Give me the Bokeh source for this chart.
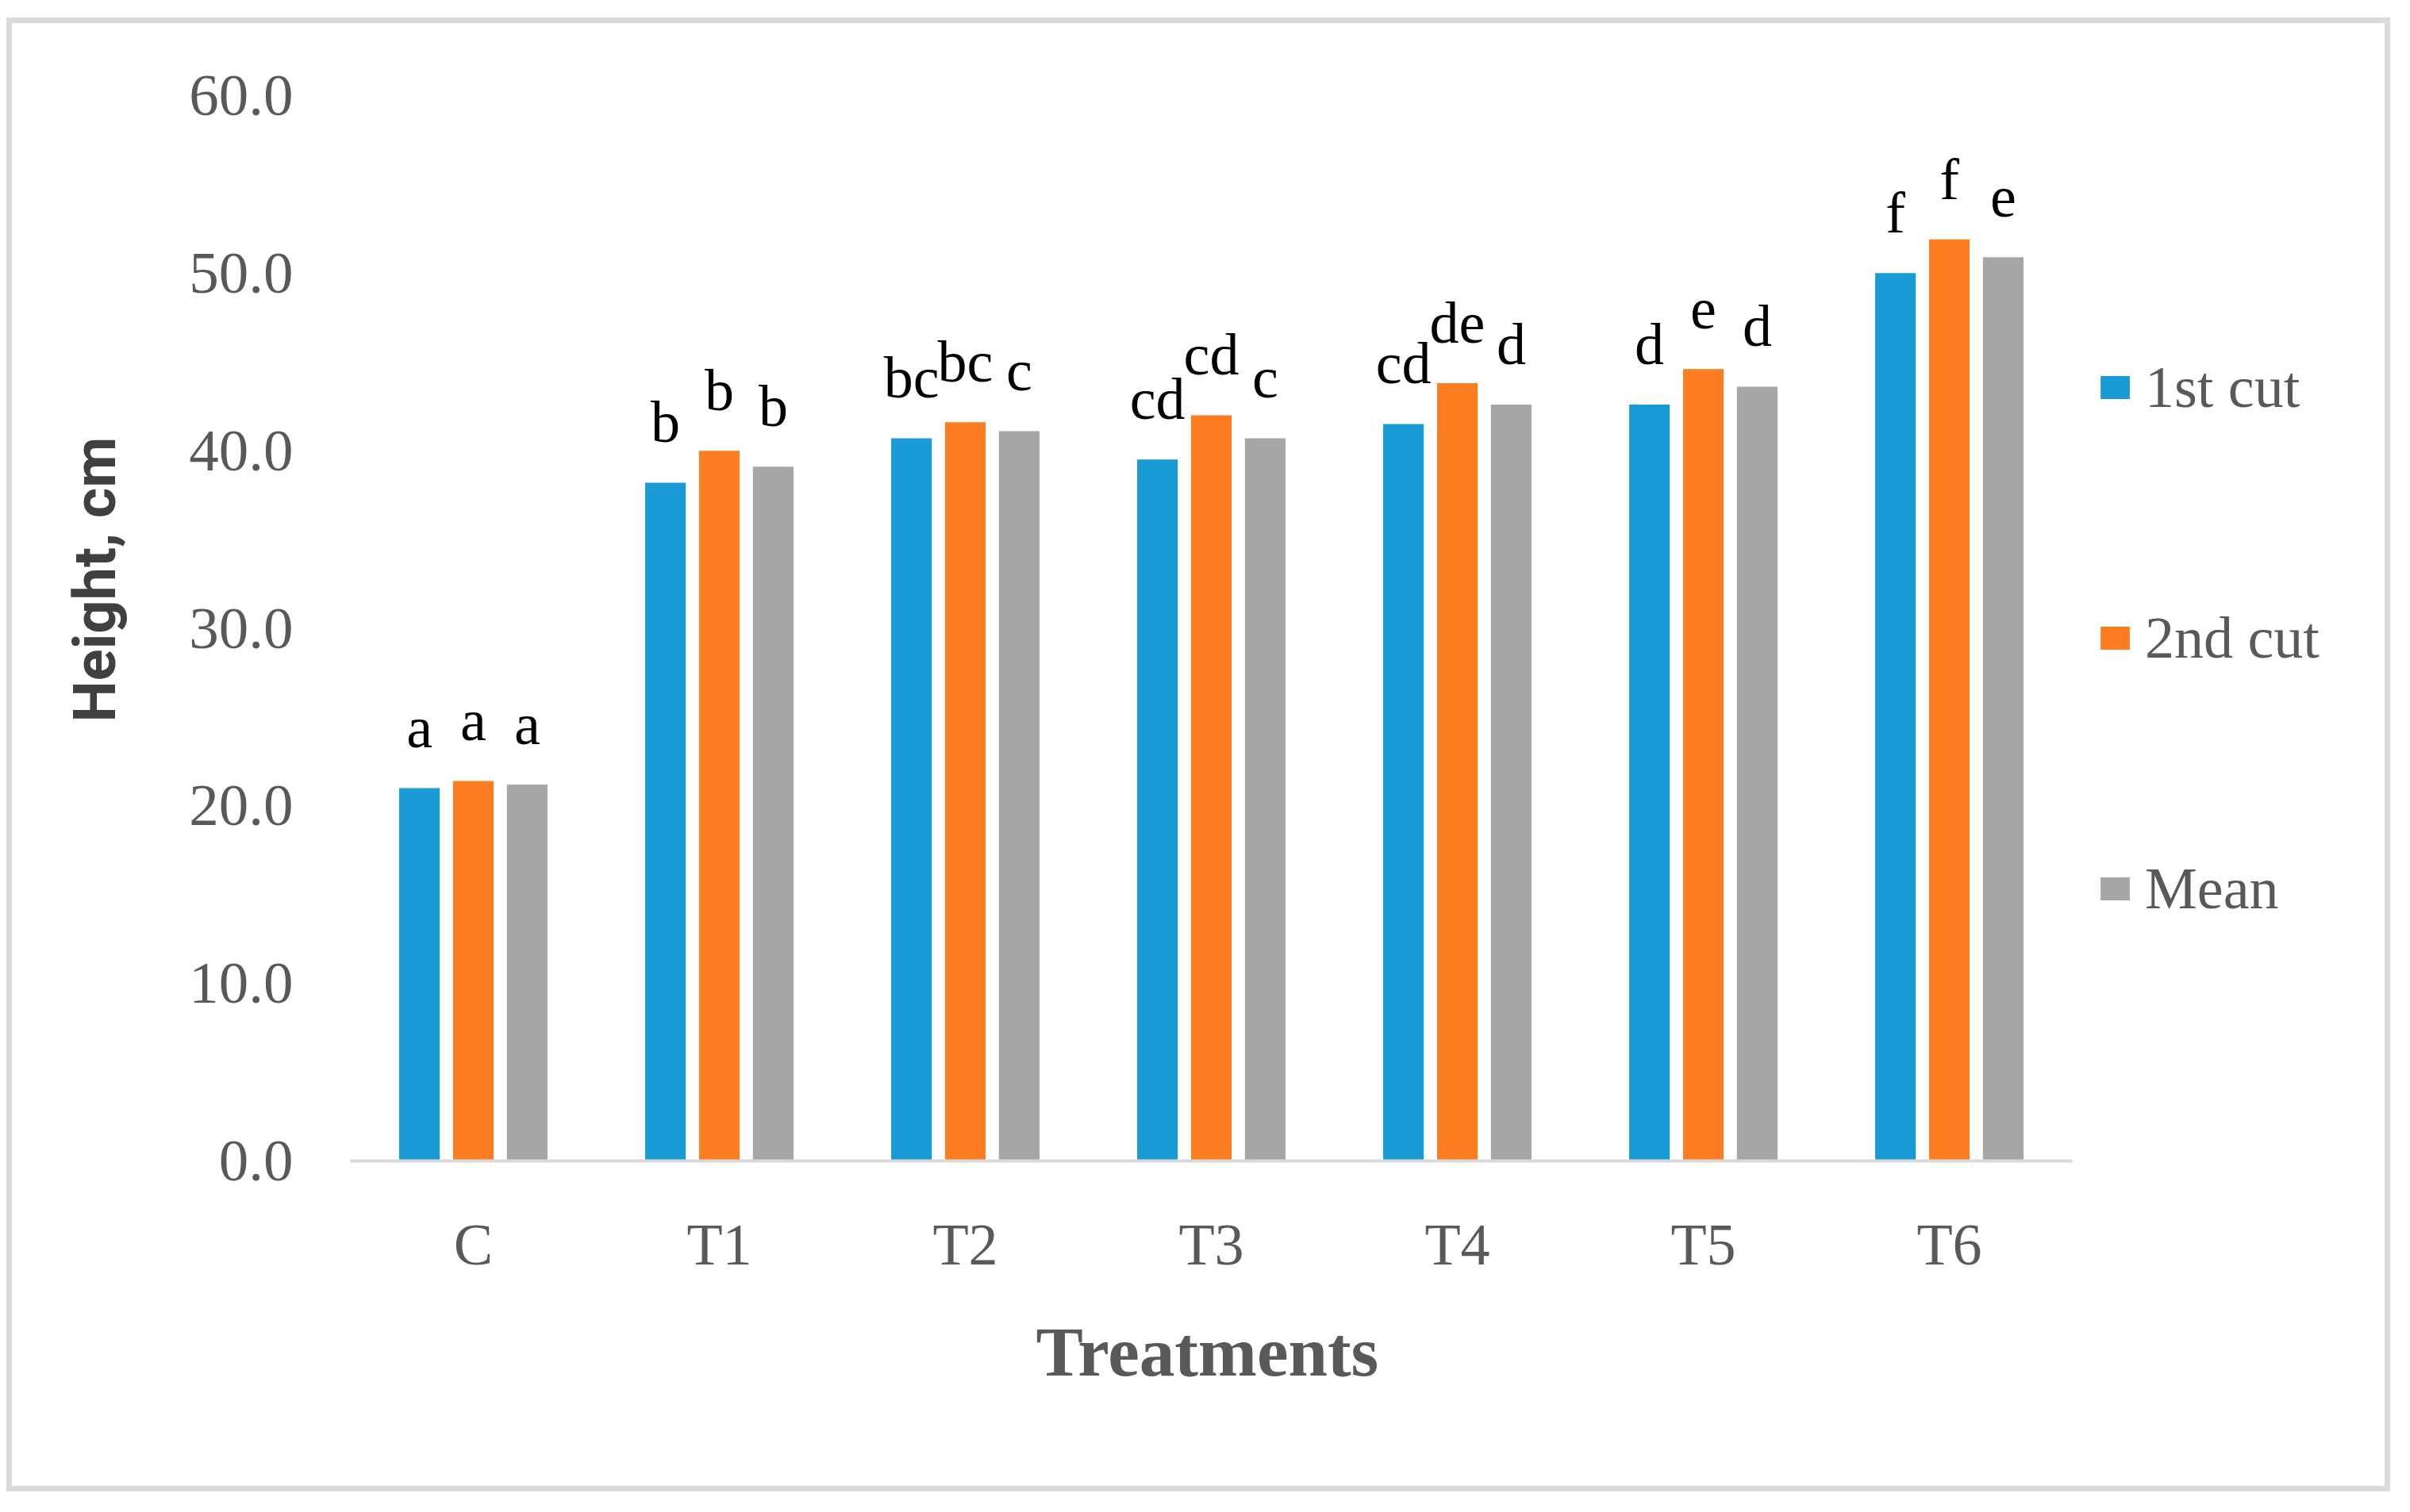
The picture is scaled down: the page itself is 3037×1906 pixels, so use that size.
from bokeh.plotting import figure
from bokeh.models import (ColumnDataSource, Range1d, FixedTicker,
                          NumeralTickFormatter, Legend, LegendItem, Title)
from bokeh.transform import dodge
from bokeh.core.properties import value
from bokeh.embed import file_html
from bokeh.resources import INLINE

# ---- data ----
treatments = ["C", "T1", "T2", "T3", "T4", "T5", "T6"]
cut1 = [21.0, 38.2, 40.7, 39.5, 41.5, 42.6, 50.0]
cut2 = [21.4, 40.0, 41.6, 42.0, 43.8, 44.6, 51.9]
mean = [21.2, 39.1, 41.1, 40.7, 42.6, 43.6, 50.9]
letters1 = ["a", "b", "bc", "cd", "cd", "d", "f"]
letters2 = ["a", "b", "bc", "cd", "de", "e", "f"]
letters_mean = ["a", "b", "c", "c", "d", "d", "e"]
series_names = ["1st cut", "2nd cut", "Mean"]
y_ticks = [0, 10, 20, 30, 40, 50, 60]

# ---- styles / geometry ----
BLUE = "#1A9BD6"
ORANGE = "#FD7D23"
GRAY = "#A6A6A6"
TXT = "#595959"
SERIF = "Liberation Serif"
LIFT = 3.4
OFFS = [-0.219, 0.0, 0.219]
BW = 0.165
W, H = 3020, 1874
LEFT, RIGHT, TOP, BOTTOM = 441, 30, 106, 425
CAT_PX = 310.0                      # pixels per category slot
X_END = (W - LEFT - RIGHT) / CAT_PX  # frame extends right to hold the legend
N = len(treatments)
centers = [i + 0.5 for i in range(N)]

source = ColumnDataSource(dict(
    xc=centers, cut1=cut1, cut2=cut2, mean=mean,
    l1=letters1, l2=letters2, lm=letters_mean,
    y1=[v + LIFT for v in cut1], y2=[v + LIFT for v in cut2], ym=[v + LIFT for v in mean],
))

p = figure(x_range=Range1d(0, X_END), y_range=Range1d(0, 60),
           width=W, height=H, output_backend="svg", toolbar_location=None,
           min_border_left=LEFT, min_border_right=RIGHT, min_border_top=TOP, min_border_bottom=BOTTOM)
p.styles = {"margin-top": "14px",
            "box-shadow": "inset 0 0 0 8px #FFFFFF, inset 0 0 0 15px #DADADA"}
p.background_fill_color = None
p.border_fill_color = None
p.outline_line_color = None
p.xgrid.visible = False
p.ygrid.visible = False

renderers = []
for col, off, colr in zip(["cut1", "cut2", "mean"], OFFS, [BLUE, ORANGE, GRAY]):
    r = p.vbar(x=dodge("xc", off), top=col, width=BW,
               source=source, fill_color=colr, line_color=None)
    renderers.append(r)

for lcol, ycol, off in zip(["l1", "l2", "lm"], ["y1", "y2", "ym"], OFFS):
    p.text(x=dodge("xc", off), y=ycol, text=lcol, source=source,
           text_font=value(SERIF), text_font_size=value("74px"), text_color="black",
           text_align="center", text_baseline="alphabetic")

# y axis
p.yaxis.ticker = FixedTicker(ticks=y_ticks)
p.yaxis.formatter = NumeralTickFormatter(format="0.0")
p.yaxis.axis_line_color = None
p.yaxis.major_tick_line_color = None
p.yaxis.minor_tick_line_color = None
p.yaxis.major_label_text_font = SERIF
p.yaxis.major_label_text_font_size = "75px"
p.yaxis.major_label_text_color = TXT
p.yaxis.major_label_standoff = 66

# x axis
p.xaxis.ticker = FixedTicker(ticks=centers)
p.xaxis.major_label_overrides = {c: t for c, t in zip(centers, treatments)}
p.xaxis.bounds = (0, N)
p.xaxis.axis_line_color = "#D9D9D9"
p.xaxis.axis_line_width = 4
p.xaxis.major_tick_line_color = None
p.xaxis.minor_tick_line_color = None
p.xaxis.major_label_text_font = SERIF
p.xaxis.major_label_text_font_size = "74px"
p.xaxis.major_label_text_color = TXT
p.xaxis.major_label_standoff = 58

# axis titles (placed as side titles so they sit where the reference has them)
p.add_layout(Title(text="Height, cm", align="left", offset=553, standoff=145,
                   text_font="Roboto", text_font_style="bold", text_font_size="74px",
                   text_color="#404040"), "left")
p.add_layout(Title(text="Treatments", align="left", offset=864, standoff=84,
                   vertical_align="top",
                   text_font=SERIF, text_font_style="bold", text_font_size="89px",
                   text_color=TXT), "below")

# legend
legend = Legend(items=[LegendItem(label=n, renderers=[r]) for n, r in zip(series_names, renderers)],
                location=(2201, 298), orientation="vertical",
                glyph_width=46, glyph_height=36, label_standoff=15,
                label_height=90, spacing=226, padding=0, margin=0,
                label_text_font=SERIF, label_text_font_size="74px", label_text_color=TXT,
                border_line_color=None, background_fill_alpha=0)
p.add_layout(legend)

open("out.html", "w").write(file_html(p, INLINE))
